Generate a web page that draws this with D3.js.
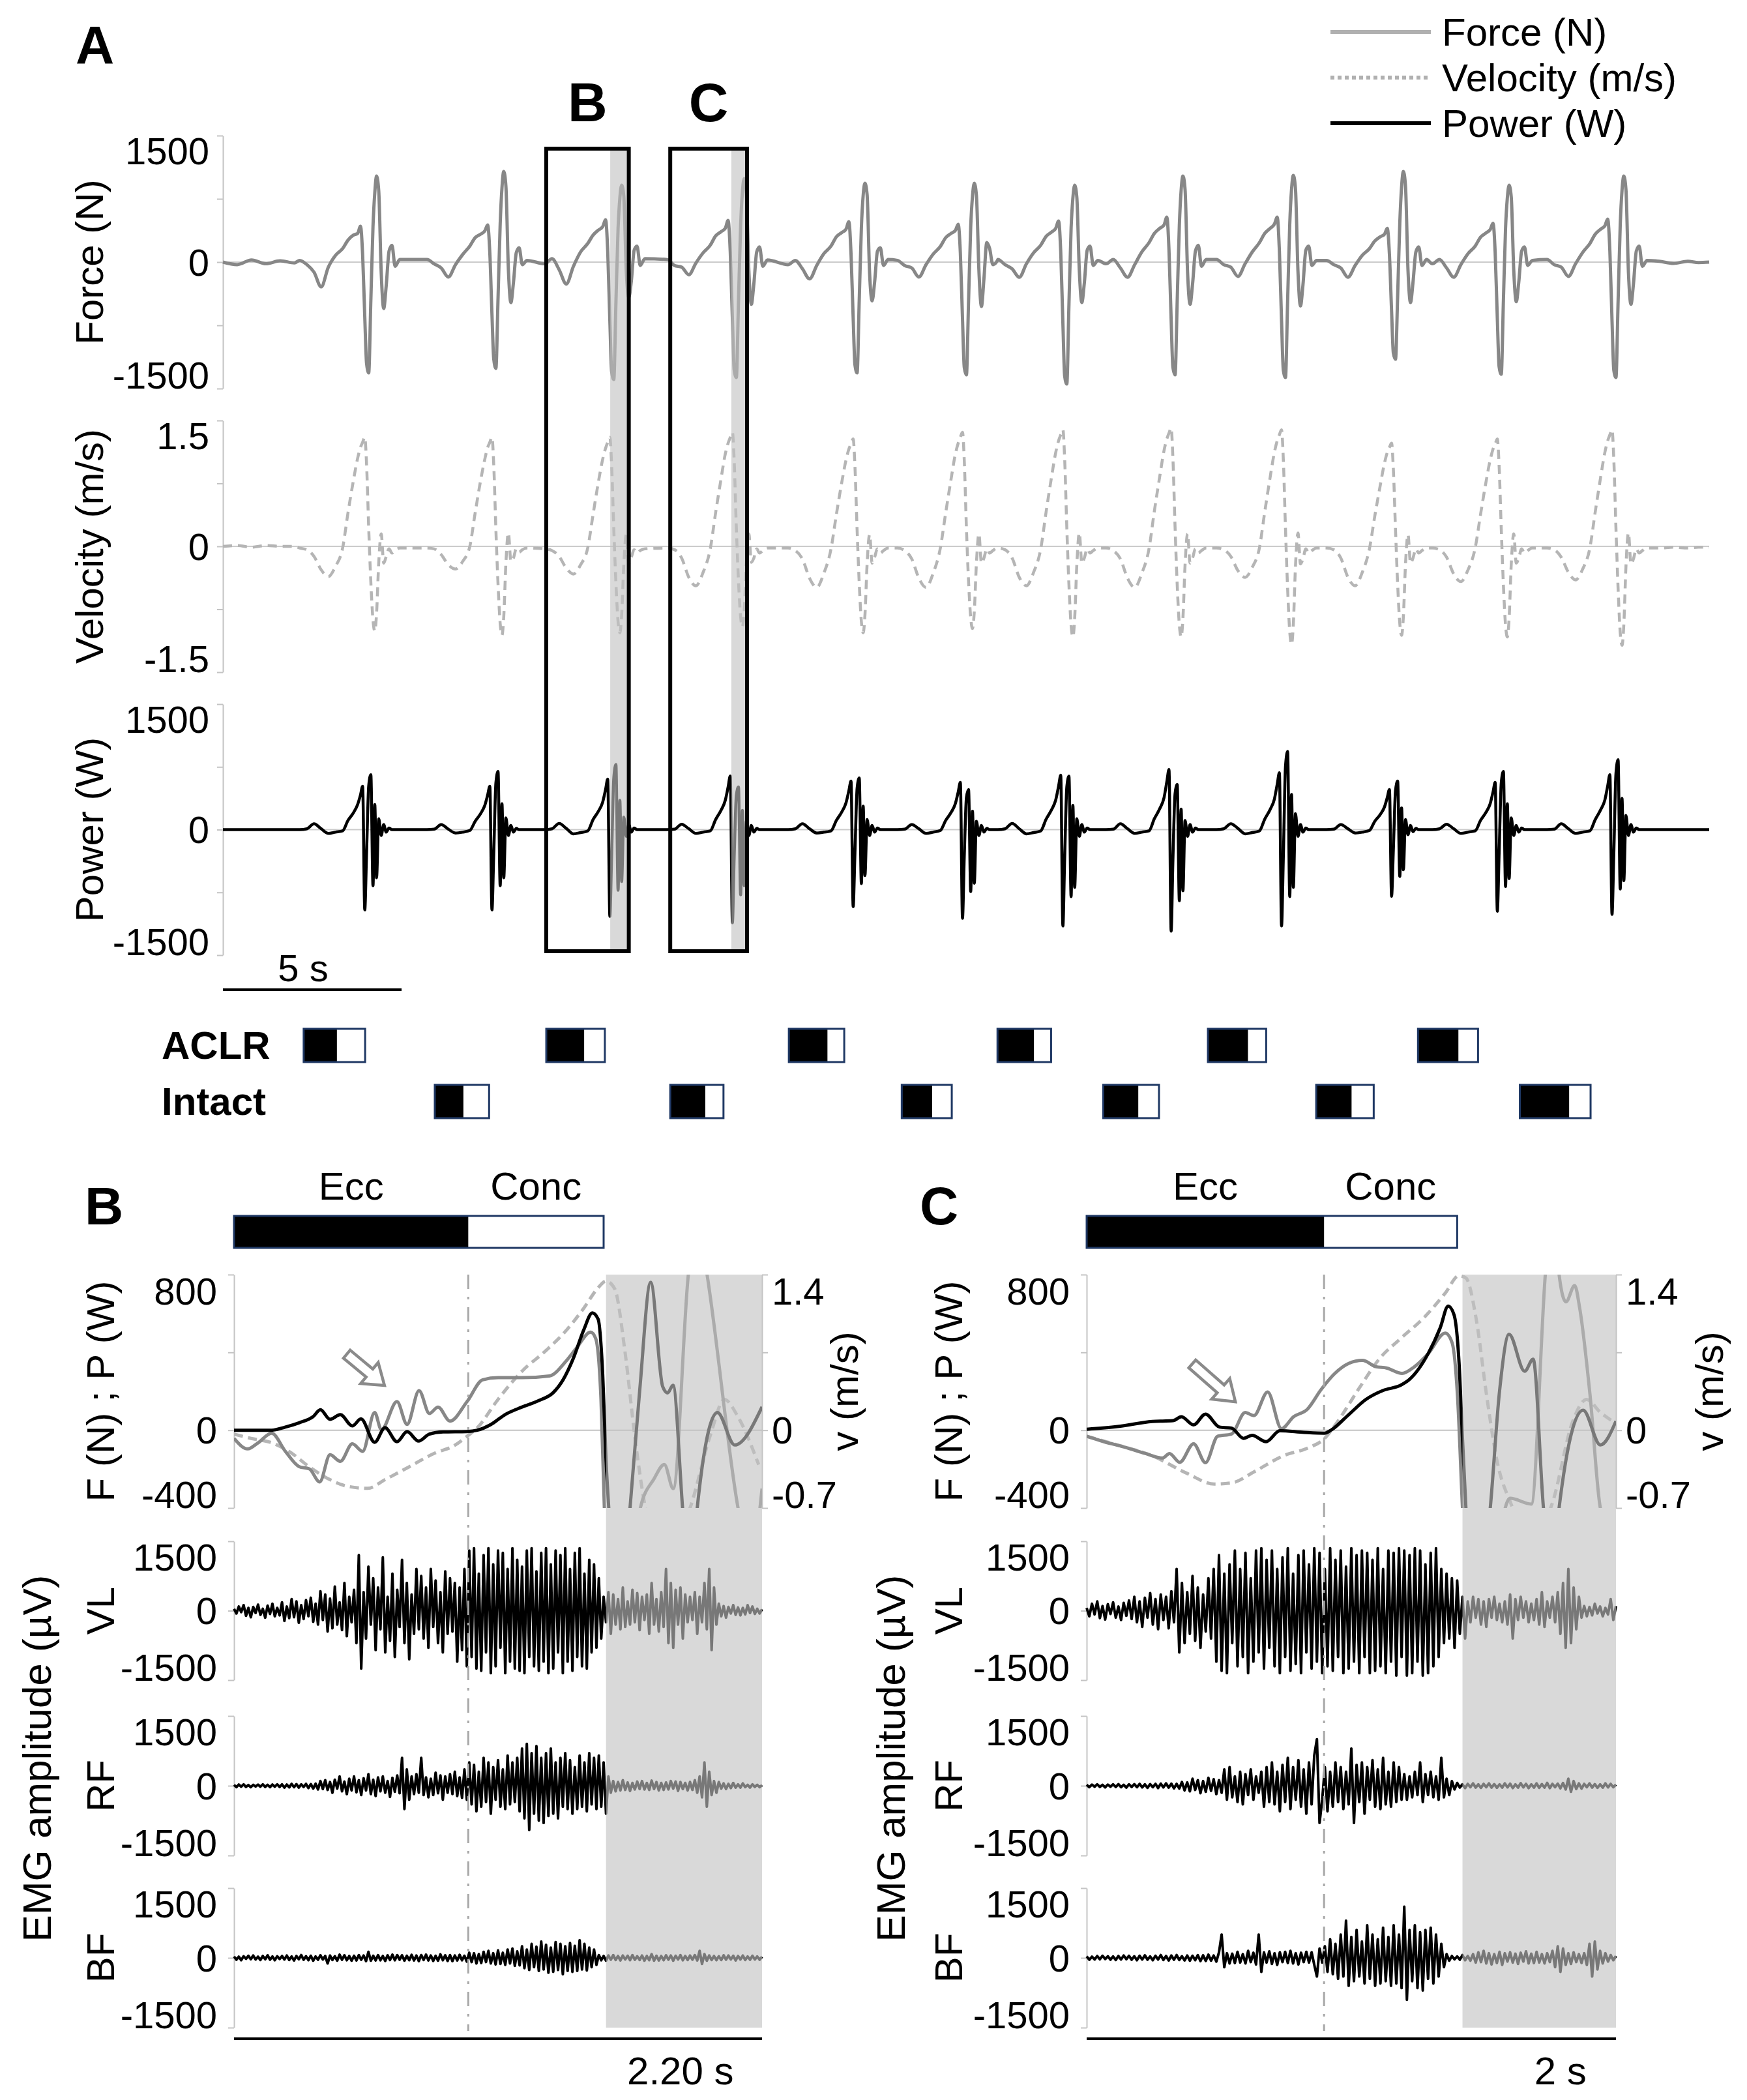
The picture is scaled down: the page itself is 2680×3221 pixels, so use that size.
<!DOCTYPE html>
<html><head><meta charset="utf-8">
<script src="https://cdn.jsdelivr.net/npm/d3@7"></script>
<style>body{margin:0;background:#fff}</style>
</head><body><svg id="c" width="2680" height="3221"></svg>
<script>
// ---------------- DATA ----------------
// Panel A: cycle (spike) times in s, relative sample offsets in s
const cycleT = [4.05,7.61,10.91,14.34,17.72,20.78,23.59,26.62,29.71,32.79,35.75,38.96];
const relT = [-1.9,-1.7,-1.5,-1.3,-1.1,-0.9,-0.7,-0.55,-0.4,-0.28,-0.2,-0.14,-0.08,-0.03,0.03,0.09,0.15,0.2,0.25,0.31,0.38,0.45,0.52,0.6,0.68,0.77,0.9];
const leadT = [0,0.4,0.8,1.2,1.6,2.0];
const tailT = [40.2,40.6,41.0,41.3,41.6];
const leadF = [0,-30,25,-20,15,-10], tailF = [10,-15,10,-5,0];
const leadV = [0,0.01,-0.01,0.01,0,0], tailV = [-0.02,-0.01,-0.02,-0.01,-0.01];
const leadP = [0,0,0,0,0,0], tailP = [0,0,0,0,0];
const forceCycles = [
[20,-30,-120,-294,-60,80,160,260,320,340,425,90,-650,-1200,-1314,-450,420,820,1020,850,-120,-550,-280,130,200,-50,30],
[30,-20,-70,-177,-30,90,190,290,330,370,440,110,-620,-1150,-1260,-430,450,880,1075,900,-90,-480,-250,110,170,-30,20],
[-20,40,-90,-260,-50,120,220,320,380,420,503,130,-700,-1300,-1392,-480,400,760,912,780,-110,-420,-230,140,190,-40,40],
[30,-40,-60,-150,-10,110,200,310,360,400,495,120,-680,-1280,-1369,-470,430,830,990,820,-100,-500,-260,120,180,-50,25],
[-30,20,-80,-200,-40,100,190,300,350,390,480,100,-660,-1220,-1314,-450,410,790,935,800,-130,-460,-240,130,170,-40,30],
[20,-40,-70,-177,-30,95,185,290,340,375,449,110,-670,-1250,-1338,-460,420,780,935,790,-100,-526,-200,232,160,-30,20],
[30,-30,-80,-180,-20,110,200,305,355,400,487,120,-720,-1350,-1446,-500,400,760,912,770,-100,-480,-250,140,190,-40,20],
[-20,30,-70,-180,-30,120,230,340,400,440,533,140,-680,-1250,-1338,-460,440,850,1020,860,-120,-500,-260,130,200,-50,30],
[30,-30,-60,-170,-20,120,230,340,400,450,533,130,-690,-1280,-1369,-470,450,860,1028,870,-110,-520,-270,140,190,-40,20],
[20,-30,-70,-180,-40,80,160,250,300,330,400,90,-580,-1080,-1152,-400,460,890,1075,900,-100,-480,-240,120,180,-40,30],
[-20,30,-70,-180,-30,100,190,295,345,385,460,110,-670,-1240,-1330,-460,400,760,912,770,-100,-470,-240,130,180,-40,20],
[30,-30,-60,-170,-20,115,220,330,390,430,510,130,-690,-1280,-1369,-470,440,850,1020,860,-120,-500,-260,130,190,-50,20]];
const velCycles = [
[-0.02,-0.04,-0.12,-0.28,-0.36,-0.24,-0.02,0.40,0.78,1.05,1.18,1.24,1.30,0.98,0.22,-0.43,-0.88,-1.01,-0.80,-0.20,0.15,-0.20,-0.12,-0.03,-0.08,-0.05,-0.02],
[-0.02,-0.03,-0.10,-0.22,-0.27,-0.18,0.0,0.40,0.78,1.04,1.18,1.24,1.30,0.97,0.2,-0.45,-0.92,-1.06,-0.84,-0.2,0.16,-0.18,-0.14,-0.03,-0.07,-0.04,-0.02],
[-0.03,-0.05,-0.12,-0.26,-0.33,-0.22,-0.02,0.38,0.77,1.04,1.17,1.24,1.30,0.96,0.21,-0.44,-0.90,-1.03,-0.82,-0.22,0.14,-0.2,-0.13,-0.04,-0.08,-0.05,-0.03],
[-0.02,-0.04,-0.14,-0.37,-0.47,-0.31,-0.03,0.40,0.80,1.10,1.23,1.30,1.36,1.02,0.22,-0.41,-0.84,-0.96,-0.77,-0.2,0.15,-0.19,-0.14,-0.03,-0.08,-0.05,-0.02],
[-0.02,-0.05,-0.15,-0.38,-0.49,-0.32,-0.03,0.38,0.76,1.03,1.16,1.22,1.28,0.95,0.2,-0.44,-0.9,-1.03,-0.82,-0.21,0.14,-0.2,-0.13,-0.03,-0.08,-0.05,-0.02],
[-0.02,-0.05,-0.15,-0.38,-0.49,-0.32,-0.02,0.40,0.80,1.10,1.23,1.30,1.36,1.02,0.22,-0.42,-0.85,-0.98,-0.78,-0.2,0.15,-0.2,-0.14,-0.03,-0.08,-0.05,-0.02],
[-0.02,-0.04,-0.14,-0.37,-0.47,-0.31,-0.03,0.41,0.82,1.12,1.26,1.33,1.39,1.04,0.22,-0.46,-0.94,-1.08,-0.86,-0.22,0.16,-0.2,-0.14,-0.03,-0.08,-0.05,-0.02],
[-0.02,-0.05,-0.15,-0.38,-0.49,-0.32,-0.03,0.42,0.83,1.14,1.28,1.35,1.41,1.05,0.23,-0.46,-0.94,-1.08,-0.86,-0.22,0.15,-0.2,-0.14,-0.03,-0.08,-0.05,-0.02],
[-0.02,-0.04,-0.12,-0.29,-0.37,-0.25,-0.02,0.41,0.82,1.12,1.26,1.33,1.39,1.04,0.22,-0.5,-1.02,-1.17,-0.93,-0.24,0.16,-0.21,-0.15,-0.03,-0.08,-0.05,-0.02],
[-0.02,-0.04,-0.14,-0.37,-0.47,-0.31,-0.03,0.36,0.72,0.99,1.12,1.18,1.23,0.92,0.2,-0.45,-0.92,-1.06,-0.84,-0.21,0.14,-0.2,-0.14,-0.03,-0.08,-0.05,-0.02],
[-0.02,-0.04,-0.13,-0.33,-0.42,-0.28,-0.02,0.38,0.76,1.03,1.16,1.22,1.28,0.96,0.21,-0.46,-0.94,-1.08,-0.86,-0.21,0.15,-0.2,-0.14,-0.03,-0.08,-0.05,-0.02],
[-0.02,-0.04,-0.13,-0.31,-0.40,-0.27,-0.02,0.41,0.82,1.12,1.26,1.33,1.39,1.04,0.22,-0.5,-1.03,-1.18,-0.94,-0.24,0.16,-0.21,-0.15,-0.03,-0.08,-0.05,-0.02]];
const powCycles = [
[0,10,70,10,-45,-30,-15,110,200,300,415,518,-959,-290,525,657,-670,300,-575,130,-70,60,-30,20,0,0,0],
[0,5,60,5,-40,-30,-10,100,190,290,415,518,-959,-290,560,696,-670,310,-575,140,-70,50,-30,15,0,0,0],
[0,10,75,15,-50,-35,-15,120,220,330,480,603,-1036,-310,620,780,-725,350,-620,150,-80,60,-30,20,0,0,0],
[0,5,65,10,-45,-30,-15,120,230,350,510,640,-1113,-330,410,510,-780,230,-670,100,-70,50,-30,15,0,0,0],
[0,10,70,10,-40,-30,-15,110,210,320,465,580,-920,-280,495,618,-645,280,-550,120,-70,50,-30,20,0,0,0],
[0,5,60,10,-45,-30,-10,110,205,310,450,564,-1059,-320,385,480,-740,220,-640,100,-70,50,-30,15,0,0,0],
[0,10,75,10,-50,-35,-15,125,235,355,520,650,-1152,-345,510,638,-800,290,-690,130,-80,60,-30,20,0,0,0],
[0,5,70,10,-45,-30,-15,130,250,380,575,719,-1214,-365,430,540,-850,245,-730,110,-80,60,-30,20,0,0,0],
[0,10,70,15,-50,-35,-15,125,240,365,545,680,-1152,-345,750,935,-800,420,-690,190,-80,60,-30,20,0,0,0],
[0,5,60,10,-40,-30,-10,100,180,270,385,480,-797,-240,465,580,-560,260,-480,120,-60,50,-25,15,0,0,0],
[0,10,65,10,-45,-30,-15,110,205,310,450,564,-975,-290,560,696,-680,310,-585,140,-70,50,-30,20,0,0,0],
[0,5,70,10,-45,-30,-15,120,235,355,525,657,-1013,-300,670,835,-710,375,-610,170,-70,60,-30,20,0,0,0]];

// zoom windows in panel A (s)
const winLabels = ['B','C'];
const winStart = [9.05,12.52];
const winEnd = [11.36,14.67];
const winShade = [10.84,14.23];

// phase boxes [ecc start, ecc end, conc end] (s)
const aclrBoxes = [[2.26,3.19,3.98],[9.05,10.11,10.69],[15.84,16.92,17.39],[21.68,22.70,23.18],[27.57,28.69,29.20],[33.45,34.58,35.13]];
const intactBoxes = [[5.93,6.73,7.45],[12.52,13.50,14.01],[19.00,19.85,20.40],[24.64,25.62,26.20],[30.60,31.59,32.21],[36.30,37.68,38.28]];

// Panel B
const bT_P = [0,0.157,0.214,0.271,0.329,0.36,0.40,0.443,0.493,0.529,0.586,0.629,0.679,0.721,0.769,0.814,0.871,0.971,1.014,1.071,1.129,1.2,1.271,1.329,1.371,1.414,1.457,1.493,1.517,1.536,1.55,1.564,1.6,1.65,1.69,1.736,1.786,1.807,1.829,1.869,1.9,1.93,2.014,2.086,2.2];
const bP = [0,0,16,38,69,105,56,80,22,58,-62,13,-59,-7,-56,-20,-9,-7,0,30,80,119,153,192,259,370,515,603,571,292,-154,-450,-1100,-400,200,761,225,192,231,-400,-900,-400,91,-76,120];
const bT_F = [0,0.057,0.1,0.157,0.214,0.271,0.314,0.357,0.4,0.443,0.493,0.536,0.586,0.614,0.679,0.721,0.771,0.814,0.85,0.9,0.971,1.036,1.1,1.2,1.314,1.386,1.429,1.486,1.507,1.529,1.543,1.58,1.64,1.693,1.75,1.793,1.83,1.893,1.93,1.971,2.1,2.15,2.2];
const bF = [-42,-96,-65,-15,-109,-187,-199,-266,-126,-160,-70,-109,91,2,147,30,203,86,119,47,147,259,270,270,279,359,426,504,471,158,-400,-1400,-900,-400,-250,-176,-300,800,1100,800,-400,-700,-300];
const bT_V = [0,0.071,0.157,0.229,0.314,0.4,0.471,0.557,0.629,0.729,0.843,0.914,0.971,1.014,1.1,1.2,1.3,1.386,1.457,1.514,1.55,1.586,1.629,1.671,1.714,1.78,1.84,1.9,1.986,2.043,2.1,2.186];
const bV = [-0.035,-0.074,-0.113,-0.19,-0.33,-0.445,-0.504,-0.523,-0.445,-0.33,-0.2,-0.143,-0.055,0.023,0.277,0.531,0.717,0.902,1.097,1.273,1.341,1.273,0.707,-0.074,-0.7,-1.1,-1.0,-0.7,-0.035,0.277,0.12,-0.31];
const bVL = [40,-60,90,-30,120,-110,60,-140,80,-50,130,-90,40,-150,110,-70,150,-120,60,-100,180,-220,90,-160,250,-140,200,-260,120,-180,230,-120,280,-240,150,-300,420,-200,350,-450,260,-380,520,-300,180,-420,600,-550,300,-250,450,-700,1200,-1250,400,-600,950,-300,700,-850,500,-400,1150,-900,300,-650,800,-1000,450,-350,1100,-700,600,-1050,350,-500,900,-400,750,-600,500,-800,900,-350,650,-700,400,-900,850,-500,700,-450,600,-1100,500,-850,900,-1200,1300,-1000,1350,-1250,800,-1300,1200,-900,1350,-1350,1000,-1200,1300,-800,1250,-1350,900,-1100,1350,-1250,1100,-1300,950,-1350,1300,-1000,1350,-1200,850,-1300,1250,-1100,1350,-1350,1000,-1250,1300,-900,1200,-1350,1350,-1100,900,-1300,1250,-1000,1350,-1200,800,-1250,1100,-900,1000,-800,700,-600,300,-250,400,-500,350,-300,250,-400,500,-350,200,-300,450,-250,380,-420,300,-200,350,-500,600,-300,250,-450,400,-350,900,-700,600,-800,450,-300,500,-600,350,-250,300,-200,400,-500,300,-250,600,-400,900,-850,500,-300,150,-120,100,-150,80,-60,120,-90,70,-100,60,-80,120,-50,90,-70,40,-60,30];
const bRF = [20,-30,25,-20,30,-25,15,-30,20,-15,25,-20,30,-25,20,-30,25,-20,30,-25,30,-40,25,-35,40,-30,35,-40,30,-25,40,-50,35,-60,45,-80,100,-70,120,-90,80,-150,130,-60,200,-120,90,-180,150,-100,200,-140,120,-200,160,-100,250,-180,130,-220,180,-120,200,-150,100,-240,170,-130,220,-160,600,-500,350,-300,200,-180,250,-150,600,-200,180,-250,150,-200,280,-160,220,-300,200,-150,250,-180,300,-220,180,-260,350,-300,500,-400,450,-550,300,-450,600,-350,500,-600,400,-300,550,-450,350,-500,650,-400,500,-350,600,-550,800,-700,900,-950,700,-600,850,-750,600,-800,700,-650,800,-600,500,-700,600,-450,700,-500,550,-600,400,-500,650,-450,500,-550,700,-400,600,-500,650,-450,500,-600,200,-150,100,-120,80,-100,120,-90,70,-110,60,-80,90,-70,100,-80,60,-90,110,-70,80,-100,60,-90,70,-80,100,-60,90,-110,80,-70,60,-100,80,-90,120,-150,200,-250,500,-450,300,-200,100,-150,80,-60,50,-70,40,-50,60,-40,30,-40,50,-30,20,-40,30,-25,20,-30,15];
const bBF = [30,-40,25,-50,35,-20,45,-30,50,-35,25,-45,40,-30,55,-40,30,-50,35,-25,40,-35,50,-45,30,-55,40,-30,60,-40,35,-50,45,-60,30,-40,55,-35,40,-120,50,-45,35,-60,70,-40,55,-50,40,-60,45,-55,60,-40,50,-70,130,-60,45,-55,60,-50,40,-65,55,-45,70,-50,60,-40,55,-60,45,-50,65,-55,50,-70,60,-45,70,-55,50,-65,45,-60,75,-50,55,-65,60,-70,50,-55,65,-50,45,-80,110,-90,100,-120,80,-110,130,-90,150,-120,100,-140,160,-130,110,-150,180,-120,200,-170,140,-160,250,-220,180,-260,300,-200,240,-280,350,-250,280,-320,220,-300,340,-260,300,-350,250,-280,320,-300,260,-280,380,-250,300,-270,220,-200,180,-150,60,-50,40,-60,50,-40,60,-45,40,-55,50,-35,45,-50,60,-40,35,-45,50,-60,40,-50,80,-60,45,-55,40,-50,55,-40,50,-60,45,-35,60,-50,40,-45,50,-40,60,-55,150,-130,80,-60,50,-45,40,-50,35,-45,55,-40,50,-35,45,-55,40,-35,50,-45,30,-40,45,-35,30,-40,25];

// Panel C
const cT_P = [0,0.117,0.248,0.326,0.358,0.404,0.449,0.502,0.547,0.593,0.625,0.678,0.73,0.821,0.899,0.925,0.99,1.055,1.121,1.186,1.218,1.29,1.336,1.366,1.388,1.407,1.42,1.433,1.46,1.525,1.56,1.596,1.655,1.687,1.726,1.76,1.785,1.876,1.941,2.0];
const cP = [5,19,45,49,69,27,83,16,11,-42,-26,-59,-3,-11,-15,2,80,158,205,231,259,393,527,638,594,348,-42,-400,-1000,-400,200,493,303,365,-400,-800,-400,103,-76,47];
const cT_F = [0,0.065,0.143,0.222,0.287,0.313,0.352,0.404,0.449,0.495,0.547,0.599,0.632,0.684,0.736,0.782,0.834,0.886,0.938,0.99,1.042,1.094,1.133,1.192,1.238,1.29,1.355,1.381,1.401,1.42,1.46,1.6,1.68,1.733,1.76,1.785,1.811,1.844,1.863,1.902,1.941,2.0];
const cF = [-31,-59,-87,-120,-143,-120,-165,-70,-167,-31,-20,91,75,197,8,69,108,209,292,343,359,326,320,292,326,393,499,449,181,-400,-1400,-350,-380,800,1200,800,660,744,627,181,-400,-600];
const cT_V = [0,0.117,0.248,0.378,0.482,0.547,0.638,0.743,0.834,0.899,0.938,1.029,1.108,1.186,1.277,1.355,1.407,1.433,1.472,1.511,1.55,1.603,1.68,1.759,1.837,1.889,1.941,2.0];
const cV = [-0.055,-0.133,-0.23,-0.387,-0.484,-0.474,-0.367,-0.23,-0.162,-0.074,0.043,0.375,0.648,0.824,1.019,1.234,1.39,1.37,0.999,0.316,-0.27,-0.66,-1.0,-0.66,0.082,0.277,0.16,0.062];
const cVL = [60,-120,150,-80,200,-160,100,-190,140,-70,180,-150,90,-200,170,-110,220,-180,300,-250,200,-350,280,-150,380,-300,250,-400,350,-200,300,-380,420,-250,900,-900,600,-700,400,-500,750,-650,500,-800,350,-450,700,-600,900,-1100,1200,-1300,800,-1350,1000,-700,1300,-1200,900,-1000,1250,-1350,700,-1100,1300,-900,1350,-1250,1100,-800,1300,-1200,900,-1350,1150,-1000,1350,-1300,800,-1150,1200,-1350,1300,-900,1000,-1250,1350,-1100,1250,-1350,900,-1200,1350,-1300,1100,-1000,1300,-1350,950,-1250,1350,-1100,1200,-1350,1300,-1000,1250,-1350,1100,-1300,1350,-1200,900,-1350,1300,-1100,1250,-1400,1350,-1000,1300,-1400,1200,-1350,1350,-1100,1300,-1400,1000,-1350,1250,-1200,1350,-1000,900,-700,800,-600,700,-800,650,-500,300,-600,200,-250,300,-150,250,-300,200,-350,250,-150,300,-200,150,-250,200,-300,350,-600,250,-200,300,-150,200,-250,150,-200,250,-300,400,-350,200,-150,300,-250,400,-500,600,-800,900,-700,500,-400,300,-150,100,-120,80,-100,150,-60,90,-120,60,-80,250,-200,100];
const cRF = [20,-30,25,-20,30,-25,20,-35,25,-20,30,-25,35,-30,20,-40,30,-25,35,-30,40,-35,30,-45,35,-30,40,-50,45,-35,50,-40,45,-55,40,-60,80,-100,70,-120,150,-90,120,-160,100,-130,170,-110,140,-180,120,-150,350,-300,400,-250,200,-350,300,-400,250,-200,350,-300,200,-150,300,-450,400,-350,500,-400,300,-550,450,-350,600,-500,400,-300,550,-450,350,-600,500,-400,650,1000,-800,-300,400,-550,300,-450,500,-350,400,-500,300,-400,800,-800,450,-350,500,-600,400,-300,550,-450,350,-500,600,-400,300,-450,500,-350,400,-300,250,-300,200,-250,300,-200,500,-350,250,-200,300,-250,200,-300,600,-250,150,-200,100,-80,60,-40,30,-50,40,-30,50,-40,30,-45,40,-30,50,-40,35,-45,30,-40,50,-35,45,-50,30,-40,55,-35,40,-50,30,-40,50,-45,35,-40,60,-50,40,-30,45,-55,60,-80,150,-130,100,-70,50,-60,40,-30,50,-40,35,-45,30,-40,50,-35,40,-30,25];
const cBF = [30,-40,25,-35,40,-30,45,-25,35,-40,30,-45,40,-35,50,-30,45,-40,35,-50,45,-35,55,-40,30,-50,45,-35,60,-45,40,-55,50,-40,60,-45,35,-55,50,-60,45,-50,60,-70,55,-65,70,-60,50,-80,120,500,-200,100,-120,90,-110,130,-100,80,-120,150,-90,110,-140,500,-300,120,-100,140,-130,100,-150,120,-90,130,-110,150,-120,100,-140,110,-90,130,-100,120,-150,-400,200,-100,250,-300,400,-350,300,-450,500,-400,800,-600,450,-500,600,-400,350,-550,700,-450,500,-600,400,-550,650,-500,450,-600,700,-550,500,-650,1100,-900,600,-500,700,-650,550,-700,600,-450,650,-550,500,-400,300,-200,80,-60,40,-30,30,-40,60,-50,40,-60,80,-100,120,-90,150,-120,100,-140,80,-110,130,-150,100,-80,120,-100,90,-130,110,-80,140,-120,90,-110,130,-100,80,-120,100,-90,150,-200,250,-300,200,-150,100,-130,120,-90,80,-110,100,-150,300,-400,350,-250,150,-120,100,-80,60,-50,40];

// ---------------- DRAW ----------------
const FONT = '"Liberation Sans", Arial, Helvetica, sans-serif';
const C_FORCE = '#878787', C_VEL = '#b5b5b5', C_POW = '#000', C_AX = '#c4c4c4';
const NAVY = '#1f3864';
const svg = d3.select('#c');
svg.append('rect').attr('width',2680).attr('height',3221).attr('fill','#fff');
svg.append('defs');

function txt(g, s, x, y, size, opt={}) {
  const t = g.append('text').attr('x',x).attr('y',y).text(s)
    .attr('font-family',FONT).attr('font-size',size).attr('fill',opt.fill||'#000')
    .attr('text-anchor',opt.anchor||'start');
  if (opt.bold) t.attr('font-weight','bold');
  if (opt.rot) t.attr('transform',`rotate(-90,${x},${y})`).attr('dominant-baseline','central');
  if (opt.mid) t.attr('dominant-baseline','central');
  return t;
}
function styleAxis(g, labelOff) {
  g.selectAll('path,line').attr('stroke',C_AX).attr('stroke-width',2);
  g.selectAll('text').attr('font-family',FONT).attr('font-size',58).attr('fill','#000')
    .attr('dy','0.35em').attr('transform', d => `translate(0,${labelOff(d)})`);
}
const fmt = d => String(d);

// ---- Panel A ----
const xA = d3.scaleLinear().domain([0,41.6]).range([342,2622]);
function buildA(lead, cyc, tail) {
  const pts = leadT.map((t,i)=>[t,lead[i]]);
  cycleT.forEach((T,c)=> relT.forEach((r,j)=> pts.push([T+r, cyc[c][j]])));
  tailT.forEach((t,i)=>pts.push([t,tail[i]]));
  return pts;
}
const rowsA = [
  {title:'Force (N)', dom:[-1500,1500], rng:[596,208], ticks:[-1500,-750,0,750,1500], labels:[-1500,0,1500],
   data: buildA(leadF,forceCycles,tailF), color:C_FORCE, dash:null, w:5},
  {title:'Velocity (m/s)', dom:[-1.5,1.5], rng:[1031,645], ticks:[-1.5,-0.75,0,0.75,1.5], labels:[-1.5,0,1.5],
   data: buildA(leadV,velCycles,tailV), color:C_VEL, dash:'14,9', w:4.5},
  {title:'Power (W)', dom:[-1500,1500], rng:[1465,1080], ticks:[-1500,-750,0,750,1500], labels:[-1500,0,1500],
   data: buildA(leadP,powCycles,tailP), color:C_POW, dash:null, w:4.5}
];
const gA = svg.append('g');
rowsA.forEach(r => {
  const y = d3.scaleLinear().domain(r.dom).range(r.rng);
  gA.append('line').attr('x1',xA.range()[0]).attr('x2',xA.range()[1]).attr('y1',y(0)).attr('y2',y(0))
    .attr('stroke','#cbcbcb').attr('stroke-width',2);
  const ax = gA.append('g').attr('transform',`translate(${xA.range()[0]},0)`)
    .call(d3.axisLeft(y).tickValues(r.ticks).tickSize(9).tickSizeOuter(0).tickPadding(12)
      .tickFormat(d => r.labels.includes(d) ? fmt(d) : ''));
  styleAxis(ax, d => d===r.dom[1] ? 23 : (d===r.dom[0] ? -21 : 0));
  gA.append('path').datum(r.data)
    .attr('d', d3.line().x(d=>xA(d[0])).y(d=>y(d[1])).curve(d3.curveMonotoneX))
    .attr('fill','none').attr('stroke',r.color).attr('stroke-width',r.w)
    .attr('stroke-linejoin','round').attr('stroke-dasharray',r.dash);
  txt(gA, r.title, 137, y(0), 60, {anchor:'middle', rot:true});
});
// zoom windows
const boxTop = 228, boxBot = 1459;
winLabels.forEach((lab,i) => {
  gA.append('rect').attr('x',xA(winShade[i])).attr('y',boxTop).attr('width',xA(winEnd[i])-xA(winShade[i]))
    .attr('height',boxBot-boxTop).attr('fill','#c1c1c1').attr('opacity',0.62);
  gA.append('rect').attr('x',xA(winStart[i])).attr('y',boxTop).attr('width',xA(winEnd[i])-xA(winStart[i]))
    .attr('height',boxBot-boxTop).attr('fill','none').attr('stroke','#000').attr('stroke-width',6);
  txt(gA, lab, (xA(winStart[i])+xA(winEnd[i]))/2, 186, 84, {anchor:'middle', bold:true});
});
txt(gA,'A',116,97,82,{bold:true});
// legend
const legItems = [['Force (N)','#b0b0b0',null],['Velocity (m/s)','#b0b0b0','6,5'],['Power (W)','#000',null]];
legItems.forEach((it,i) => {
  const yy = 49 + i*70;
  gA.append('line').attr('x1',2041).attr('x2',2195).attr('y1',yy).attr('y2',yy)
    .attr('stroke',it[1]).attr('stroke-width',6).attr('stroke-dasharray',it[2]);
  txt(gA, it[0], 2212, yy+21, 60);
});
// scale bar
gA.append('line').attr('x1',xA(0)).attr('x2',xA(5)).attr('y1',1518).attr('y2',1518).attr('stroke','#000').attr('stroke-width',4);
txt(gA,'5 s',(xA(0)+xA(5))/2-14,1505,58,{anchor:'middle'});
// phase boxes
function phaseRow(boxes, yTop, label) {
  txt(gA,label,248,yTop+46,60,{bold:true});
  boxes.forEach(b => {
    gA.append('rect').attr('x',xA(b[0])).attr('y',yTop).attr('width',xA(b[1])-xA(b[0])).attr('height',51).attr('fill','#000');
    gA.append('rect').attr('x',xA(b[0])).attr('y',yTop).attr('width',xA(b[2])-xA(b[0])).attr('height',51)
      .attr('fill','none').attr('stroke',NAVY).attr('stroke-width',3);
  });
}
phaseRow(aclrBoxes,1578,'ACLR');
phaseRow(intactBoxes,1664,'Intact');

// ---- Panels B and C ----
const detail = [
  {lab:'B', labX:130, x0:359, x1:1169, dur:2.2, ecc:0.976, conc:1.54, gray:1.55,
   leftLabX:154, emgLabX:56, rightLabX:1295, tlab:'2.20 s', tlabT:1.86, arrow:[0.47,391,0.627,230],
   P:[bT_P,bP], F:[bT_F,bF], V:[bT_V,bV], emg:[bVL,bRF,bBF]},
  {lab:'C', labX:1411, x0:1667, x1:2479, dur:2.0, ecc:0.897, conc:1.40, gray:1.42,
   leftLabX:1455, emgLabX:1366, rightLabX:2622, tlab:'2 s', tlabT:1.79, arrow:[0.399,341,0.562,146],
   P:[cT_P,cP], F:[cT_F,cF], V:[cT_V,cV], emg:[cVL,cRF,cBF]}
];
const topY = [2313,1955];
const emgRows = [['VL',2577,2364],['RF',2846,2632],['BF',3110,2896]];
detail.forEach((p,pi) => {
  const g = svg.append('g');
  const x = d3.scaleLinear().domain([0,p.dur]).range([p.x0,p.x1]);
  const yF = d3.scaleLinear().domain([-400,800]).range(topY);
  const yV = d3.scaleLinear().domain([-0.7,1.4]).range(topY);
  txt(g,p.lab,p.labX,1878,82,{bold:true});
  // phase bar
  g.append('rect').attr('x',x(0)).attr('y',1865).attr('width',x(p.ecc)-x(0)).attr('height',49).attr('fill','#000');
  g.append('rect').attr('x',x(0)).attr('y',1865).attr('width',x(p.conc)-x(0)).attr('height',49)
    .attr('fill','none').attr('stroke',NAVY).attr('stroke-width',3);
  txt(g,'Ecc',(x(0)+x(p.ecc))/2,1840,60,{anchor:'middle'});
  txt(g,'Conc',(x(p.ecc)+x(p.conc))/2,1840,60,{anchor:'middle'});
  // top plot axes
  g.append('line').attr('x1',x(0)).attr('x2',x(p.dur)).attr('y1',yF(0)).attr('y2',yF(0)).attr('stroke','#c4c4c4').attr('stroke-width',2);
  const axL = g.append('g').attr('transform',`translate(${x(0)},0)`)
    .call(d3.axisLeft(yF).tickValues([-400,0,400,800]).tickSize(9).tickSizeOuter(0).tickPadding(17)
      .tickFormat(d => d===400 ? '' : fmt(d)));
  styleAxis(axL, d => d===800 ? 25 : (d===-400 ? -21 : 0));
  const axR = g.append('g').attr('transform',`translate(${x(p.dur)},0)`)
    .call(d3.axisRight(yV).tickValues([-0.7,0,0.7,1.4]).tickSize(9).tickSizeOuter(0).tickPadding(6)
      .tickFormat(d => d===0.7 ? '' : fmt(d)));
  styleAxis(axR, d => d===1.4 ? 25 : (d===-0.7 ? -21 : 0));
  txt(g,'F (N) ; P (W)',p.leftLabX,(topY[0]+topY[1])/2,60,{anchor:'middle',rot:true});
  txt(g,'v (m/s)',p.rightLabX,(topY[0]+topY[1])/2,60,{anchor:'middle',rot:true});
  // clip
  const cid = 'clip'+pi;
  svg.select('defs').append('clipPath').attr('id',cid).append('rect')
    .attr('x',x(0)).attr('y',topY[1]).attr('width',x(p.dur)-x(0)).attr('height',topY[0]-topY[1]);
  const gT = g.append('g').attr('clip-path',`url(#${cid})`);
  const mk = (ts,vs)=>ts.map((t,i)=>[t,vs[i]]);
  gT.append('path').datum(mk(p.V[0],p.V[1]))
    .attr('d',d3.line().x(d=>x(d[0])).y(d=>yV(d[1])).curve(d3.curveMonotoneX))
    .attr('fill','none').attr('stroke',C_VEL).attr('stroke-width',5).attr('stroke-dasharray','14,8');
  gT.append('path').datum(mk(p.F[0],p.F[1]))
    .attr('d',d3.line().x(d=>x(d[0])).y(d=>yF(d[1])).curve(d3.curveMonotoneX))
    .attr('fill','none').attr('stroke',C_FORCE).attr('stroke-width',5).attr('stroke-linejoin','round');
  gT.append('path').datum(mk(p.P[0],p.P[1]))
    .attr('d',d3.line().x(d=>x(d[0])).y(d=>yF(d[1])).curve(d3.curveMonotoneX))
    .attr('fill','none').attr('stroke',C_POW).attr('stroke-width',5).attr('stroke-linejoin','round');
  // arrow
  const a = p.arrow;
  const ax0 = x(a[0]), ay0 = yF(a[1]), ax1 = x(a[2]), ay1 = yF(a[3]);
  const L = Math.hypot(ax1-ax0, ay1-ay0), ux=(ax1-ax0)/L, uy=(ay1-ay0)/L, px=-uy, py=ux;
  const sw=8, hw=21, hl=30;
  const bx = ax1-ux*hl, by = ay1-uy*hl;
  const pts = [[ax0+px*sw,ay0+py*sw],[bx+px*sw,by+py*sw],[bx+px*hw,by+py*hw],[ax1,ay1],
               [bx-px*hw,by-py*hw],[bx-px*sw,by-py*sw],[ax0-px*sw,ay0-py*sw]];
  g.append('polygon').attr('points',pts.map(q=>q.join(',')).join(' '))
    .attr('fill','#fff').attr('stroke','#8a8a8a').attr('stroke-width',4.5).attr('stroke-linejoin','miter');
  // EMG rows
  emgRows.forEach((r,ri) => {
    const y = d3.scaleLinear().domain([-1500,1500]).range([r[1],r[2]]);
    const ax = g.append('g').attr('transform',`translate(${x(0)},0)`)
      .call(d3.axisLeft(y).tickValues([-1500,0,1500]).tickSize(9).tickSizeOuter(0).tickPadding(17).tickFormat(fmt));
    styleAxis(ax, d => d===1500 ? 24 : (d===-1500 ? -20 : 0));
    const vals = p.emg[ri];
    const dt = p.dur/(vals.length-1);
    g.append('path').datum(vals)
      .attr('d',d3.line().x((d,i)=>x(i*dt)).y(d=>y(d)))
      .attr('fill','none').attr('stroke','#000').attr('stroke-width',4).attr('stroke-linejoin','round');
    txt(g,r[0],p.leftLabX,y(0),60,{anchor:'middle',rot:true});
  });
  txt(g,'EMG amplitude (µV)',p.emgLabX,2697,62,{anchor:'middle',rot:true});
  // dash-dot line at ecc/conc transition
  g.append('line').attr('x1',x(p.ecc)).attr('x2',x(p.ecc)).attr('y1',topY[1]).attr('y2',3115)
    .attr('stroke','#a8a8a8').attr('stroke-width',3).attr('stroke-dasharray','22,12,4,12');
  // gray overlay (after concentric phase)
  g.append('rect').attr('x',x(p.gray)).attr('y',topY[1]).attr('width',x(p.dur)-x(p.gray)).attr('height',3110-topY[1])
    .attr('fill','#c1c1c1').attr('opacity',0.62);
  // time bar
  g.append('line').attr('x1',x(0)).attr('x2',x(p.dur)).attr('y1',3127).attr('y2',3127).attr('stroke','#000').attr('stroke-width',4);
  txt(g,p.tlab,x(p.tlabT),3197,60,{anchor:'middle'});
});
</script></body></html>
